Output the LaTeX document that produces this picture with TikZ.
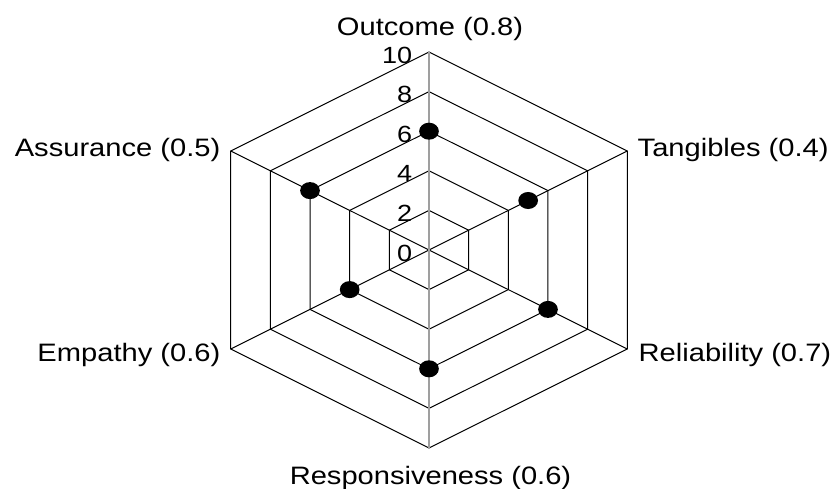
\documentclass[tikz,border=0pt]{standalone}
\usepackage{fontspec}
\setmainfont{Liberation Sans}[FakeStretch=1.155]
\usepackage{tikz}
\usetikzlibrary{positioning}

\tikzset{
  gridline/.style={black,line width=0.5pt},
  valueaxis/.style={gray!75,line width=0.8pt},
  axislabel/.style={inner sep=0pt,font=\fontsize{12.6}{15}\selectfont},
  ticklabel/.style={inner sep=0pt,anchor=base east,font=\fontsize{11.7}{14}\selectfont},
  datapoint/.style={fill=black}
}

\begin{document}
\begin{tikzpicture}[x=11.45pt,y=9.9pt]
\path[use as bounding box] (-214.5pt,-119pt) rectangle (200.5pt,125pt);

% Hexagon rings
\foreach \r in {2,4,...,10}
  \draw[gridline] (90:\r) -- (30:\r) -- (-30:\r) -- (-90:\r) -- (210:\r) -- (150:\r) -- cycle;

% Spokes
\foreach \a in {30,-30,210,150}
  \draw[gridline] (0,0) -- (\a:10);
\draw[valueaxis] (-90:10) -- (90:10);

% Scale labels
\foreach \r in {0,2,...,10}
  \node[ticklabel] (tick\r) at ([xshift=-8.25pt,yshift=-5.5pt]0,\r) {\r};

% Outer corners
\coordinate (outcome) at (90:10);
\coordinate (tangibles) at (30:10);
\coordinate (reliability) at (-30:10);
\coordinate (responsiveness) at (-90:10);
\coordinate (empathy) at (210:10);
\coordinate (assurance) at (150:10);

% Dimension labels
\node[axislabel,anchor=base] (outcomelbl) at ([xshift=0.5pt,yshift=8.5pt]outcome) {Outcome (0.8)};
\node[axislabel,anchor=base west] (tangibleslbl) at ([xshift=5pt,yshift=-2.5pt]tangibles) {Tangibles (0.4)};
\node[axislabel,anchor=base west] (reliabilitylbl) at ([xshift=5.5pt,yshift=-6pt]reliability) {Reliability (0.7)};
\node[axislabel,anchor=base] (responsivenesslbl) at ([xshift=0.75pt,yshift=-18pt]responsiveness) {Responsiveness (0.6)};
\node[axislabel,anchor=base east] (empathylbl) at ([xshift=-5pt,yshift=-6pt]empathy) {Empathy (0.6)};
\node[axislabel,anchor=base east] (assurancelbl) at ([xshift=-5pt,yshift=-2.5pt]assurance) {Assurance (0.5)};

% Scores
\foreach \a/\v in {90/6, 30/5, -30/6, -90/6, 210/4, 150/6}
  \fill[datapoint] (\a:\v) circle (0.43);
\end{tikzpicture}
\end{document}
